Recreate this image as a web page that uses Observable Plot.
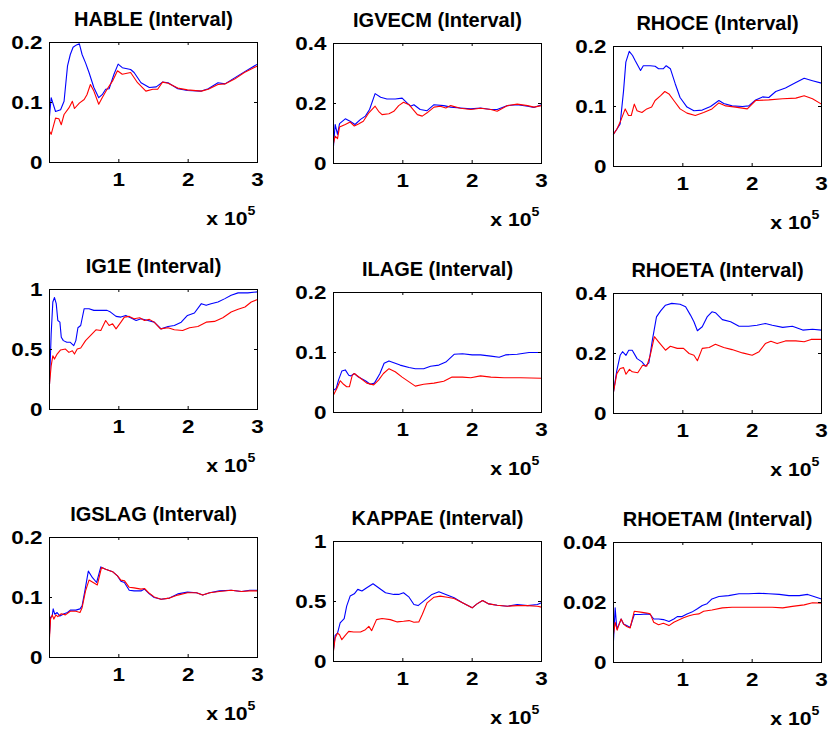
<!DOCTYPE html>
<html>
<head>
<meta charset="utf-8">
<script src="https://cdn.jsdelivr.net/npm/d3@7"></script>
<script src="https://cdn.jsdelivr.net/npm/@observablehq/plot@0.6"></script>
<style>
  html, body { margin: 0; padding: 0; background: #fff; }
  #grid { position: relative; width: 829px; height: 731px; background: #fff; overflow: hidden; }
  #grid svg { position: absolute; }
</style>
</head>
<body>
<div id="grid"></div>
<script>
// Recursive interval estimates per parameter; x in units of 10^5 draws.
const titles = [
  "HABLE (Interval)", "IGVECM (Interval)", "RHOCE (Interval)",
  "IG1E (Interval)", "ILAGE (Interval)", "RHOETA (Interval)",
  "IGSLAG (Interval)", "KAPPAE (Interval)", "RHOETAM (Interval)"
];
const yTickValues = [
  [0, 0.1, 0.2], [0, 0.2, 0.4], [0, 0.1, 0.2],
  [0, 0.5, 1], [0, 0.1, 0.2], [0, 0.2, 0.4],
  [0, 0.1, 0.2], [0, 0.5, 1], [0, 0.02, 0.04]
];
const yTickLabels = [
  ["0", "0.1", "0.2"], ["0", "0.2", "0.4"], ["0", "0.1", "0.2"],
  ["0", "0.5", "1"], ["0", "0.1", "0.2"], ["0", "0.2", "0.4"],
  ["0", "0.1", "0.2"], ["0", "0.5", "1"], ["0", "0.02", "0.04"]
];
const xTickValues = [1, 2, 3];
const xTickLabels = ["1", "2", "3"];
const xScaleText = "x 10";
const xScaleExponent = "5";

const hableBlue = [[0,0.077],[0.024,0.108],[0.087,0.085],[0.16,0.088],[0.21,0.102],[0.26,0.161],[0.30,0.180],[0.34,0.192],[0.39,0.196],[0.43,0.198],[0.47,0.180],[0.52,0.166],[0.57,0.150],[0.64,0.125],[0.71,0.108],[0.76,0.113],[0.81,0.122],[0.86,0.123],[0.93,0.147],[0.99,0.164],[1.05,0.158],[1.17,0.155],[1.22,0.150],[1.32,0.133],[1.44,0.125],[1.54,0.126],[1.63,0.134],[1.71,0.133],[1.85,0.123],[1.99,0.120],[2.19,0.119],[2.29,0.123],[2.43,0.133],[2.53,0.131],[2.67,0.141],[2.81,0.151],[3.0,0.164]];
const hableRed = [[0,0.052],[0.024,0.047],[0.087,0.074],[0.135,0.073],[0.17,0.063],[0.21,0.080],[0.28,0.091],[0.33,0.102],[0.36,0.090],[0.43,0.099],[0.50,0.105],[0.54,0.113],[0.59,0.130],[0.64,0.119],[0.71,0.097],[0.76,0.108],[0.83,0.122],[0.91,0.136],[0.98,0.153],[1.05,0.147],[1.17,0.150],[1.27,0.133],[1.39,0.119],[1.49,0.122],[1.56,0.122],[1.63,0.134],[1.71,0.132],[1.85,0.124],[1.99,0.121],[2.19,0.119],[2.29,0.122],[2.43,0.130],[2.53,0.131],[2.67,0.139],[2.81,0.150],[3.0,0.161]];

const igvecmBlue = [[0,0.058],[0.024,0.130],[0.058,0.097],[0.087,0.133],[0.17,0.149],[0.24,0.141],[0.31,0.130],[0.39,0.147],[0.46,0.158],[0.52,0.180],[0.60,0.233],[0.68,0.221],[0.77,0.215],[0.89,0.215],[0.99,0.218],[1.06,0.202],[1.11,0.191],[1.16,0.196],[1.25,0.180],[1.35,0.176],[1.45,0.196],[1.59,0.193],[1.69,0.188],[1.83,0.185],[1.98,0.182],[2.12,0.185],[2.27,0.180],[2.36,0.180],[2.51,0.193],[2.65,0.196],[2.80,0.191],[2.89,0.187],[3.0,0.196]];
const igvecmRed = [[0,0.067],[0.024,0.091],[0.058,0.083],[0.087,0.122],[0.17,0.130],[0.24,0.138],[0.30,0.125],[0.36,0.132],[0.43,0.141],[0.51,0.169],[0.60,0.191],[0.65,0.174],[0.70,0.163],[0.80,0.166],[0.87,0.174],[0.94,0.193],[1.01,0.204],[1.09,0.196],[1.14,0.182],[1.21,0.163],[1.28,0.158],[1.35,0.169],[1.45,0.188],[1.54,0.191],[1.62,0.185],[1.69,0.193],[1.83,0.184],[1.98,0.180],[2.12,0.184],[2.27,0.180],[2.36,0.174],[2.51,0.193],[2.65,0.198],[2.80,0.193],[2.89,0.188],[3.0,0.193]];

const rhoceBlue = [[0,0.054],[0.048,0.062],[0.096,0.071],[0.145,0.126],[0.178,0.174],[0.227,0.192],[0.275,0.185],[0.31,0.177],[0.39,0.160],[0.43,0.168],[0.53,0.168],[0.60,0.167],[0.65,0.163],[0.72,0.163],[0.76,0.168],[0.82,0.163],[0.89,0.138],[0.96,0.115],[1.06,0.099],[1.16,0.093],[1.28,0.094],[1.40,0.100],[1.52,0.110],[1.59,0.105],[1.71,0.101],[1.86,0.100],[1.95,0.101],[2.05,0.111],[2.15,0.116],[2.24,0.115],[2.34,0.125],[2.48,0.131],[2.63,0.140],[2.75,0.147],[2.87,0.143],[3.0,0.139]];
const rhoceRed = [[0,0.054],[0.048,0.062],[0.096,0.074],[0.169,0.096],[0.217,0.085],[0.256,0.085],[0.30,0.104],[0.34,0.093],[0.41,0.090],[0.48,0.096],[0.55,0.099],[0.60,0.110],[0.68,0.118],[0.74,0.125],[0.80,0.121],[0.87,0.110],[0.96,0.096],[1.06,0.089],[1.18,0.085],[1.30,0.090],[1.42,0.096],[1.52,0.106],[1.62,0.101],[1.76,0.099],[1.93,0.096],[2.05,0.110],[2.24,0.111],[2.44,0.113],[2.63,0.114],[2.75,0.118],[2.87,0.113],[3.0,0.104]];

const ig1eBlue = [[0,0.21],[0.024,0.63],[0.048,0.896],[0.072,0.933],[0.097,0.882],[0.12,0.742],[0.15,0.728],[0.17,0.602],[0.20,0.574],[0.25,0.560],[0.30,0.560],[0.35,0.532],[0.38,0.574],[0.41,0.681],[0.45,0.700],[0.50,0.840],[0.57,0.840],[0.64,0.826],[0.74,0.826],[0.83,0.826],[0.88,0.812],[0.96,0.776],[1.03,0.770],[1.10,0.784],[1.17,0.765],[1.25,0.742],[1.32,0.756],[1.42,0.742],[1.51,0.728],[1.61,0.672],[1.71,0.692],[1.80,0.700],[1.90,0.728],[1.99,0.784],[2.09,0.804],[2.19,0.882],[2.26,0.868],[2.33,0.882],[2.43,0.896],[2.53,0.924],[2.62,0.952],[2.72,0.972],[2.86,0.972],[3.0,0.980]];
const ig1eRed = [[0,0.21],[0.024,0.364],[0.048,0.448],[0.072,0.420],[0.11,0.462],[0.16,0.496],[0.23,0.504],[0.28,0.476],[0.33,0.490],[0.36,0.462],[0.40,0.504],[0.45,0.513],[0.52,0.574],[0.59,0.616],[0.67,0.664],[0.74,0.658],[0.81,0.742],[0.86,0.700],[0.91,0.714],[0.96,0.672],[1.03,0.728],[1.08,0.770],[1.15,0.776],[1.22,0.756],[1.30,0.765],[1.37,0.742],[1.44,0.751],[1.51,0.728],[1.60,0.672],[1.71,0.681],[1.80,0.664],[1.92,0.658],[2.02,0.681],[2.14,0.692],[2.26,0.728],[2.38,0.734],[2.50,0.765],[2.62,0.812],[2.72,0.835],[2.82,0.854],[2.91,0.896],[3.0,0.916]];

const ilageBlue = [[0,0.037],[0.039,0.040],[0.072,0.054],[0.12,0.069],[0.17,0.071],[0.22,0.062],[0.25,0.061],[0.30,0.065],[0.36,0.059],[0.46,0.053],[0.53,0.047],[0.59,0.049],[0.67,0.065],[0.73,0.082],[0.80,0.086],[0.87,0.083],[0.96,0.079],[1.09,0.075],[1.18,0.073],[1.30,0.073],[1.40,0.077],[1.52,0.079],[1.62,0.084],[1.74,0.097],[1.86,0.098],[2.00,0.096],[2.12,0.096],[2.27,0.094],[2.39,0.092],[2.48,0.096],[2.65,0.097],[2.82,0.100],[3.0,0.100]];
const ilageRed = [[0,0.029],[0.048,0.040],[0.096,0.053],[0.145,0.047],[0.19,0.043],[0.23,0.043],[0.27,0.062],[0.30,0.065],[0.39,0.057],[0.48,0.049],[0.58,0.046],[0.65,0.054],[0.72,0.065],[0.80,0.073],[0.89,0.068],[0.99,0.059],[1.09,0.051],[1.18,0.044],[1.30,0.047],[1.45,0.049],[1.59,0.052],[1.71,0.059],[1.86,0.059],[1.98,0.058],[2.12,0.061],[2.27,0.059],[2.46,0.058],[2.70,0.058],[3.0,0.057]];

const rhoetaBlue = [[0,0.072],[0.048,0.144],[0.096,0.194],[0.13,0.206],[0.18,0.194],[0.22,0.211],[0.27,0.211],[0.34,0.183],[0.41,0.172],[0.46,0.158],[0.51,0.169],[0.56,0.244],[0.62,0.322],[0.68,0.342],[0.75,0.361],[0.84,0.367],[0.96,0.364],[1.04,0.356],[1.11,0.328],[1.16,0.306],[1.21,0.276],[1.28,0.289],[1.35,0.322],[1.42,0.339],[1.47,0.336],[1.57,0.313],[1.69,0.306],[1.81,0.291],[1.95,0.291],[2.07,0.294],[2.19,0.300],[2.29,0.294],[2.44,0.287],[2.58,0.291],[2.73,0.278],[2.87,0.281],[3.0,0.278]];
const rhoetaRed = [[0,0.072],[0.048,0.133],[0.096,0.150],[0.145,0.153],[0.18,0.131],[0.23,0.147],[0.27,0.139],[0.35,0.136],[0.42,0.161],[0.48,0.158],[0.53,0.194],[0.59,0.256],[0.65,0.239],[0.75,0.211],[0.82,0.224],[0.92,0.217],[1.01,0.217],[1.09,0.200],[1.16,0.194],[1.21,0.176],[1.28,0.217],[1.38,0.220],[1.47,0.231],[1.59,0.220],[1.71,0.213],[1.86,0.202],[2.00,0.194],[2.10,0.206],[2.19,0.233],[2.27,0.241],[2.36,0.233],[2.48,0.242],[2.63,0.242],[2.75,0.239],[2.85,0.247],[3.0,0.247]];

const igslagBlue = [[0,0.039],[0.015,0.067],[0.039,0.069],[0.053,0.081],[0.077,0.072],[0.11,0.075],[0.15,0.069],[0.21,0.073],[0.26,0.075],[0.30,0.079],[0.38,0.079],[0.44,0.081],[0.47,0.086],[0.51,0.111],[0.56,0.144],[0.62,0.133],[0.68,0.125],[0.74,0.151],[0.81,0.147],[0.91,0.143],[0.98,0.136],[1.03,0.127],[1.08,0.125],[1.15,0.112],[1.22,0.111],[1.32,0.111],[1.37,0.114],[1.44,0.106],[1.51,0.100],[1.61,0.097],[1.73,0.099],[1.85,0.106],[1.99,0.109],[2.12,0.108],[2.21,0.104],[2.31,0.108],[2.45,0.111],[2.62,0.112],[2.77,0.110],[2.89,0.112],[3.0,0.112]];
const igslagRed = [[0,0.033],[0.015,0.064],[0.039,0.071],[0.063,0.064],[0.092,0.071],[0.12,0.068],[0.17,0.073],[0.23,0.071],[0.30,0.077],[0.38,0.077],[0.44,0.075],[0.47,0.083],[0.52,0.111],[0.57,0.129],[0.63,0.125],[0.69,0.121],[0.75,0.150],[0.81,0.147],[0.91,0.143],[0.98,0.136],[1.03,0.129],[1.08,0.128],[1.15,0.117],[1.22,0.116],[1.32,0.114],[1.37,0.115],[1.44,0.107],[1.51,0.101],[1.61,0.097],[1.73,0.099],[1.85,0.104],[1.99,0.108],[2.12,0.108],[2.21,0.104],[2.31,0.108],[2.45,0.110],[2.62,0.112],[2.77,0.110],[2.89,0.111],[3.0,0.111]];

const kappaeBlue = [[0,0.098],[0.024,0.218],[0.058,0.237],[0.096,0.321],[0.154,0.358],[0.19,0.461],[0.24,0.545],[0.30,0.564],[0.35,0.601],[0.41,0.587],[0.48,0.615],[0.57,0.648],[0.65,0.615],[0.75,0.573],[0.87,0.559],[0.94,0.559],[1.01,0.573],[1.09,0.536],[1.16,0.475],[1.22,0.466],[1.30,0.503],[1.42,0.559],[1.52,0.581],[1.62,0.559],[1.74,0.531],[1.86,0.489],[2.00,0.447],[2.07,0.480],[2.15,0.508],[2.24,0.480],[2.36,0.469],[2.51,0.461],[2.65,0.475],[2.80,0.466],[2.94,0.475],[3.0,0.489]];
const kappaeRed = [[0,0.089],[0.024,0.196],[0.058,0.237],[0.087,0.223],[0.12,0.182],[0.17,0.218],[0.22,0.251],[0.29,0.246],[0.39,0.246],[0.46,0.265],[0.51,0.293],[0.55,0.257],[0.62,0.349],[0.70,0.358],[0.82,0.349],[0.92,0.330],[1.01,0.335],[1.09,0.341],[1.16,0.327],[1.23,0.330],[1.28,0.391],[1.35,0.489],[1.45,0.536],[1.54,0.545],[1.64,0.536],[1.74,0.525],[1.86,0.489],[2.00,0.447],[2.07,0.480],[2.15,0.508],[2.24,0.480],[2.36,0.469],[2.51,0.461],[2.65,0.466],[2.80,0.466],[2.94,0.461],[3.0,0.453]];

const rhoetamBlue = [[0,0.0073],[0.024,0.0182],[0.048,0.0112],[0.082,0.0128],[0.11,0.0145],[0.145,0.0128],[0.19,0.0123],[0.24,0.0117],[0.30,0.0160],[0.39,0.0160],[0.48,0.0162],[0.53,0.0160],[0.58,0.0145],[0.65,0.0145],[0.72,0.0143],[0.80,0.0137],[0.87,0.0145],[0.92,0.0153],[0.99,0.0153],[1.06,0.0162],[1.13,0.0168],[1.21,0.0179],[1.28,0.0190],[1.35,0.0196],[1.42,0.0212],[1.52,0.0220],[1.66,0.0223],[1.81,0.0229],[1.95,0.0229],[2.10,0.0231],[2.24,0.0229],[2.39,0.0227],[2.53,0.0223],[2.68,0.0223],[2.80,0.0227],[2.89,0.0220],[3.0,0.0212]];
const rhoetamRed = [[0,0.0095],[0.024,0.0134],[0.053,0.0108],[0.082,0.0128],[0.11,0.0145],[0.145,0.0128],[0.19,0.0120],[0.24,0.0115],[0.30,0.0171],[0.39,0.0168],[0.48,0.0165],[0.53,0.0162],[0.58,0.0134],[0.65,0.0126],[0.72,0.0131],[0.80,0.0123],[0.87,0.0134],[0.94,0.0142],[1.01,0.0149],[1.09,0.0156],[1.16,0.0160],[1.23,0.0162],[1.30,0.0171],[1.42,0.0175],[1.57,0.0182],[1.71,0.0184],[1.86,0.0184],[2.00,0.0184],[2.15,0.0184],[2.29,0.0184],[2.44,0.0182],[2.58,0.0187],[2.75,0.0192],[2.87,0.0199],[3.0,0.0198]];

const blueSeries = [hableBlue, igvecmBlue, rhoceBlue, ig1eBlue, ilageBlue, rhoetaBlue, igslagBlue, kappaeBlue, rhoetamBlue];
const redSeries  = [hableRed, igvecmRed, rhoceRed, ig1eRed, ilageRed, rhoetaRed, igslagRed, kappaeRed, rhoetamRed];

// Layout of the 3x3 grid (axes box corner per panel, in page pixels)
const boxLeft = [49, 333, 613];
const boxTop = [[42, 43, 46], [289, 292, 293], [537, 541, 542]];
const boxW = 208, boxH = 120;
const mL = 49, mR = 16, mT = 42, mB = 72;

const titleFont = "'Liberation Sans', Arial, Helvetica, sans-serif";
const tickFont = "'Liberation Sans', Arial, Helvetica, sans-serif";
const stretch = 1.18;

const grid = document.getElementById("grid");

titles.forEach((title, i) => {
  const row = Math.floor(i / 3), col = i % 3;
  const yTicks = yTickValues[i];
  const yMax = yTicks[yTicks.length - 1];
  const yLabelOf = new Map(yTicks.map((v, k) => [v, yTickLabels[i][k]]));
  const xLabelOf = new Map(xTickValues.map((v, k) => [v, xTickLabels[k]]));

  const svg = Plot.plot({
    width: mL + boxW + mR,
    height: mT + boxH + mB,
    marginLeft: mL, marginRight: mR, marginTop: mT, marginBottom: mB,
    x: {domain: [0, 3], axis: null},
    y: {domain: [0, yMax], axis: null},
    style: {background: "transparent", overflow: "visible", color: "black"},
    marks: [
      Plot.line(blueSeries[i], {x: d => d[0], y: d => d[1], stroke: "#0000ff", strokeWidth: 1.1}),
      Plot.line(redSeries[i], {x: d => d[0], y: d => d[1], stroke: "#ff0000", strokeWidth: 1.1}),
      // inward ticks on all four sides
      Plot.tickX(xTickValues, {x: d => d, insetTop: boxH - 3, stroke: "black"}),
      Plot.tickX(xTickValues, {x: d => d, insetBottom: boxH - 3, stroke: "black"}),
      Plot.tickY(yTicks, {y: d => d, insetRight: boxW - 3, stroke: "black"}),
      Plot.tickY(yTicks, {y: d => d, insetLeft: boxW - 3, stroke: "black"}),
      Plot.frame({stroke: "black"}),
      Plot.axisX(xTickValues, {
        tickSize: 0, tickPadding: 10, label: null,
        tickFormat: d => xLabelOf.get(d),
        fontSize: 19, fontWeight: "bold", fontFamily: tickFont, fill: "black"
      }),
      Plot.axisY(yTicks, {
        tickSize: 0, tickPadding: 7, label: null,
        tickFormat: d => yLabelOf.get(d),
        fontSize: 19, fontWeight: "bold", fontFamily: tickFont, fill: "black"
      }),
      Plot.text([title], {
        frameAnchor: "top", dy: -17, lineAnchor: "bottom",
        fontSize: 20, fontWeight: "bold", fontFamily: titleFont, fill: "black"
      }),
      Plot.text([xScaleText], {
        frameAnchor: "bottom-right", dx: -10, dy: 62, lineAnchor: "bottom", textAnchor: "end",
        fontSize: 18, fontWeight: "bold", fontFamily: tickFont, fill: "black"
      }),
      Plot.text([xScaleExponent], {
        frameAnchor: "bottom-right", dx: -10, dy: 52, lineAnchor: "bottom", textAnchor: "start",
        fontSize: 12, fontWeight: "bold", fontFamily: tickFont, fill: "black"
      })
    ]
  });

  // widen the bold tick lettering about each label's own anchor point
  d3.select(svg).selectAll("text")
    .filter(function () { return this.textContent !== title; })
    .each(function () {
      const el = d3.select(this);
      const x = +el.attr("x") || 0, y = +el.attr("y") || 0;
      const t = el.attr("transform") || "";
      el.attr("transform", `${t} translate(${x},${y}) scale(${stretch},1) translate(${-x},${-y})`);
    });

  svg.style.left = (boxLeft[col] - mL) + "px";
  svg.style.top = (boxTop[row][col] - mT) + "px";
  grid.appendChild(svg);
});
</script>
</body>
</html>
